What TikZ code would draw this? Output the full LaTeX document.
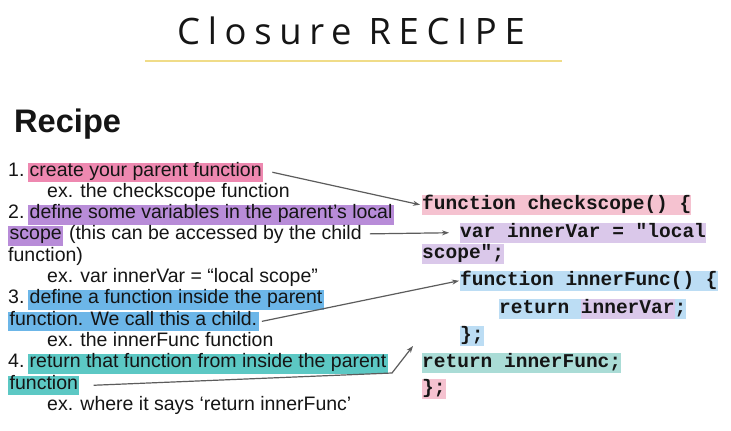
\documentclass[tikz,border=0pt]{standalone}
\usepackage{fontspec}
\setmainfont{Liberation Sans}
\newfontfamily\titlefont{Open Sans}[LetterSpace=21]
\newfontfamily\codefont{Liberation Mono}[BoldFont={Liberation Mono Bold}]
\usetikzlibrary{arrows.meta}

\definecolor{inkblack}{HTML}{151515}
\definecolor{rulegold}{HTML}{F0DC88}
\definecolor{arrowgray}{HTML}{5C5C5C}
\definecolor{hlpink}{HTML}{EE88B0}
\definecolor{hlpurple}{HTML}{B88CD8}
\definecolor{hlblue}{HTML}{6CB6E8}
\definecolor{hlteal}{HTML}{5CC8C4}
\definecolor{cdpink}{HTML}{F5C2D0}
\definecolor{cdpurple}{HTML}{DAC8EA}
\definecolor{cdblue}{HTML}{BCDDF4}
\definecolor{cdteal}{HTML}{AADCD6}

\tikzset{
  body/.style={anchor=base west, inner sep=0pt, text=inkblack,
    font=\fontsize{19.5}{21.3}\selectfont},
  mark hl/.style={body, fill=#1, inner xsep=1.5pt, inner ysep=0pt,
    text height=13.5pt, text depth=6pt},
  code/.style={anchor=base west, inner sep=0pt, text=inkblack,
    font=\codefont\bfseries\fontsize{19.5}{21.3}\selectfont},
  code hl/.style={code, fill=#1, inner xsep=0pt, inner ysep=0pt,
    text height=14pt, text depth=5.5pt},
  pointer/.style={draw=arrowgray, line width=1.2pt,
    -{Stealth[length=7pt,width=5pt]}}
}

\begin{document}
\begin{tikzpicture}[x=1pt,y=-1pt]
  \useasboundingbox[fill=white] (0,0) rectangle (731,431);

  % heading and rule
  \node[anchor=base, inner sep=0pt, text=inkblack,
        font=\titlefont\fontsize{36.4}{40}\selectfont] (title) at (351,44) {Closure RECIPE};
  \draw[rulegold, line width=1.6pt] (145,61) coordinate (ruleL) -- (562,61) coordinate (ruleR);

  \node[anchor=base west, inner sep=0pt, text=inkblack,
        font=\bfseries\fontsize{32.6}{36}\selectfont] (recipe) at (14,132) {Recipe};

  % step list
  \node[body] (n1) at (8,176) {1.};
  \node[mark hl=hlpink] (h1) at (28,176) {create your parent function};
  \node[body] (e1) at (47,197.3) {ex. the checkscope function};

  \node[body] (n2) at (8,218.6) {2.};
  \node[mark hl=hlpurple] (h2a) at (28,218.6) {define some variables in the parent’s local};
  \node[mark hl=hlpurple] (h2b) at (8,239.9) {scope};
  \node[body] (t2b) at (h2b.base east) {\ (this can be accessed by the child};
  \node[body] (t2c) at (8,261.2) {function)};
  \node[body] (e2) at (47,282.5) {ex. var innerVar = “local scope”};

  \node[body] (n3) at (8,303.8) {3.};
  \node[mark hl=hlblue] (h3a) at (28,303.8) {define a function inside the parent};
  \node[mark hl=hlblue] (h3b) at (8,325.1) {function. We call this a child.};
  \node[body] (e3) at (47,346.4) {ex. the innerFunc function};

  \node[body] (n4) at (8,367.7) {4.};
  \node[mark hl=hlteal] (h4a) at (28,367.7) {return that function from inside the parent};
  \node[mark hl=hlteal] (h4b) at (8,389) {function};
  \node[body] (e4) at (47,410.3) {ex. where it says ‘return innerFunc’};

  % code sample (adjacent highlight pieces overlap slightly so no seam shows)
  \node[code hl=cdpink] (c1) at (422,209) {function checkscope() \{};
  \node[code hl=cdpurple] (c2) at (460,237) {var innerVar = "local};
  \node[code hl=cdpurple] (c3) at (422,258) {scope";};
  \node[code hl=cdblue] (c4) at (460,285) {function innerFunc() \{};
  \node[code hl=cdblue] (c5a) at (499,313) {return\kern0.6em};
  \node[code hl=cdpurple] (c5b) at ([xshift=-0.6pt]c5a.base east) {innerVar};
  \node[code hl=cdblue] (c5c) at ([xshift=-0.3pt]c5b.base east) {;};
  \node[code hl=cdblue] (c6) at (460,340) {\};};
  \node[code hl=cdteal] (c7) at (422,367) {return innerFunc;};
  \node[code hl=cdpink] (c8) at (422,393) {\};};

  % pointers from steps to code
  \draw[pointer] ([xshift=9pt]h1.east) -- ([xshift=-2pt]c1.west);
  \draw[pointer] ([xshift=8pt,yshift=1pt]t2b.east) -- ([xshift=-11pt]c2.west);
  \draw[pointer] ([xshift=3pt]h3b.east) -- ([xshift=-1pt]c4.west);
  \coordinate (b4) at (392,373);
  \coordinate (k4) at (413,346);
  \draw[pointer] ([xshift=14pt]h4b.east) -- (b4) -- (k4);
\end{tikzpicture}
\end{document}
